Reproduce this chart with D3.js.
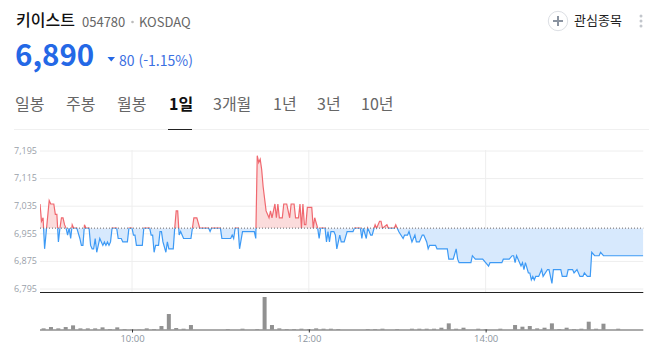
<!DOCTYPE html>
<html lang="ko">
<head>
<meta charset="utf-8">
<script src="https://cdn.jsdelivr.net/npm/d3@7"></script>
<style>
html, body { margin: 0; padding: 0; background: #fff; overflow: hidden; }
svg { display: block; font-family: "Noto Sans CJK KR", sans-serif; }
</style>
</head>
<body>
<div id="graph"></div>
<script>
// 분 단위 (09:00 부터 경과 분)
var lineMinutes = [0,1,2,3,6,7,9,10,11,12,13,14,15,16,17,18,19,20,21,22,24,26,27,28,29,30,32,33,34,35,36,37,39,40,41,42,43,44,45,46,47,50,51,53,54,57,58,60,
    61,62,63,67,68,72,73,74,75,76,78,79,80,81,83,84,85,88,89,90,91,92,93,95,100,101,102,104,106,112,113,114,120,121,127,128,129,130,132,133,135,143,144,145,146,147,148,149,151,153,154,155,157,158,159,160,162,163,165,167,168,170,171,173,174,175,176,177,178,179,182,183,184,186,187,188,191,192,193,194,195,197,198,199,201,202,204,
    206,210,211,215,216,217,219,220,222,223,225,226,228,229,230,233,234,238,239,240,241,244,245,247,248,250,252,253,255,257,258,260,261,262,266,267,274,275,278,280,281,282,290,291,293,298,302,303,311,312,316,318,319,320,321,324,325,326,327,329,330,331,332,333,334,336,338,339,342,343,345,346,351,352,355,356,359,360,362,364,366,367,369,371,372,374,377,378,380,407];
var linePrices = [7040,6990,7000,6910,7050,7040,7040,7010,7010,6930,6970,7000,7000,6980,6970,6950,6970,6940,6980,6970,6970,6940,6920,6920,6980,6970,6970,6920,6910,6910,6940,6900,6940,6930,6920,6930,6920,6930,6920,6930,6970,6970,6940,6940,6930,6930,6970,6970,
    6950,6950,6920,6920,6970,6970,6950,6950,6900,6920,6920,6960,6960,6930,6900,6930,6910,6910,6970,7020,7020,6950,6960,6940,6940,6970,7000,7000,6970,6970,6960,6970,6970,6940,6940,6950,6940,6970,6970,6910,6960,6960,6940,7180,7160,7170,7140,7090,7020,7000,7020,7000,7040,7000,7040,7000,7000,7040,7040,7000,7040,7040,7000,7000,7040,6970,7040,6980,6980,7030,7030,6970,7000,6970,6940,6970,6970,6930,6960,6930,6960,6960,6950,6910,6950,6930,6930,
    6960,6960,6970,6970,6940,6970,6940,6970,6950,6950,6980,6970,6990,6990,6970,6980,6970,6970,6980,6970,6960,6940,6950,6950,6960,6930,6950,6930,6930,6950,6950,6930,6910,6920,6920,6910,6910,6880,6880,6910,6880,6870,6870,6890,6880,6880,6860,6870,6870,6880,6880,6890,6890,6870,6890,6860,6870,6850,6870,6840,6840,6820,6830,6820,6830,6830,6850,6830,6850,6850,6810,6850,6850,6830,6830,6850,6850,6840,6850,6830,6830,6840,6830,6830,6900,6890,6890,6900,6890,6890];
var basePrice = 6970;
var priceTicks = [7195,7115,7035,6955,6875,6795];
var timeTicks = [60,180,300];
var timeLabels = ["10:00","12:00","14:00"];

// 5분 단위 거래량
var volumes = [4,8,4,8,13,4,4,4,7,2,7,2,1,1,4,2,11,47,5,3,14,0,0,0,0,2,0,3,0,2,98,14,4,2,2,3,2,4,3,3,2,0,0,0,2,2,3,0,2,0,3,3,3,3,6,19,3,6,0,3,2,0,3,0,14,9,11,4,6,19,2,6,2,3,24,3,18,0,3];

var tabs = ["일봉","주봉","월봉","1일","3개월","1년","3년","10년"];
var tabX = [15,66,117,169,213,273,317,361];
var activeTab = "1일";

var svg = d3.select("#graph").append("svg").attr("width", 649).attr("height", 351);

//헤더
function addText(x, y, str, size, color, weight, anchor) {
    return svg.append("text").attr("x", x).attr("y", y).text(str)
        .attr("font-size", size).attr("fill", color)
        .attr("font-weight", weight || 400).attr("text-anchor", anchor || "start");
}
addText(16, 26, "키이스트", 16, "#111", 500);
addText(82, 27, "054780", 13, "#666");
addText(139, 27, "KOSDAQ", 13, "#666");
svg.append("circle").attr("cx", 132.5).attr("cy", 22).attr("r", 1.3).attr("fill", "#bbb");
addText(15, 65.5, "6,890", 29.5, "#2468e6", 700);
svg.append("path").attr("d", "M107.5,57h7.5l-3.75,4.5z").attr("fill", "#2468e6");
addText(119, 66, "80 (-1.15%)", 14, "#3b70e2");

//관심종목
svg.append("circle").attr("cx", 558).attr("cy", 21).attr("r", 9.7).attr("fill", "#fff").attr("stroke", "#dcdfe4");
svg.append("path").attr("d", "M553,21h10M558,16v10").attr("stroke", "#8a93a0").attr("stroke-width", 2);
addText(574, 25, "관심종목", 13, "#222");
[16,21,26].forEach(function (cy) {
    svg.append("circle").attr("cx", 641).attr("cy", cy).attr("r", 1.5).attr("fill", "#c2c6cc");
});

//탭
tabs.forEach(function (t, i) {
    var on = t == activeTab;
    addText(tabX[i], 110, t, 16, on ? "#111" : "#666", on ? 700 : 400);
});
svg.append("line").attr("x1", 14).attr("x2", 649).attr("y1", 129.5).attr("y2", 129.5).attr("stroke", "#f0f0f0");
svg.append("line").attr("x1", 168).attr("x2", 192).attr("y1", 129.5).attr("y2", 129.5).attr("stroke", "#222");

//스케일
var left = 40, right = 643.3;
var xScale = d3.scaleLinear().domain([0, 60, 407]).range([left, 132, right]);
var yScale = d3.scaleLinear().domain([6795, 7195]).range([288.5, 150.5]);
var volX = d3.scaleLinear().domain([0, 60]).range([43.6, 132]);
var volY = d3.scaleLinear().domain([0, 98]).range([329.7, 297]);
var baseY = yScale(basePrice);

//y축과 그리드
var yAxis = svg.append("g").attr("transform", "translate(" + left + ",0)")
    .call(d3.axisLeft(yScale).tickValues(priceTicks).tickFormat(d3.format(",")).tickSize(-(right - left)).tickPadding(3));
yAxis.select(".domain").remove();
yAxis.selectAll("line").attr("stroke", "#eeeeee");
yAxis.selectAll("text").attr("font-size", 9).attr("fill", "#9aa1aa").attr("font-family", "'Open Sans', sans-serif");

//세로 그리드
svg.append("g").selectAll("line").data(timeTicks).enter().append("line")
    .attr("x1", function (d) { return xScale(d); }).attr("x2", function (d) { return xScale(d); })
    .attr("y1", 150).attr("y2", 292).attr("stroke", "#eeeeee");

//클립
var defs = svg.append("defs");
defs.append("clipPath").attr("id", "above").append("rect")
    .attr("x", left).attr("y", 140).attr("width", right - left).attr("height", baseY - 140);
defs.append("clipPath").attr("id", "below").append("rect")
    .attr("x", left).attr("y", baseY).attr("width", right - left).attr("height", 292 - baseY);

var series = lineMinutes.map(function (m, i) { return [m, linePrices[i]]; });
var area = d3.area().x(function (d) { return xScale(d[0]); }).y0(baseY).y1(function (d) { return yScale(d[1]); });
var line = d3.line().x(function (d) { return xScale(d[0]); }).y(function (d) { return yScale(d[1]); });

[["above", "#fbdcdc", "#f0686f"], ["below", "#d7e9fd", "#3d9af5"]].forEach(function (s) {
    var g = svg.append("g").attr("clip-path", "url(#" + s[0] + ")");
    g.append("path").datum(series).attr("d", area).attr("fill", s[1]);
    g.append("path").datum(series).attr("d", line).attr("fill", "none").attr("stroke", s[2]).attr("stroke-width", 1.2);
});

//기준가 점선
svg.append("line").attr("x1", left).attr("x2", right).attr("y1", baseY).attr("y2", baseY)
    .attr("stroke", "#666").attr("stroke-width", 1).attr("stroke-dasharray", "1,2");

svg.append("line").attr("x1", left).attr("x2", right).attr("y1", 292.5).attr("y2", 292.5).attr("stroke", "#222");

//거래량
svg.append("g").selectAll("rect").data(volumes).enter().append("rect")
    .attr("x", function (d, i) { return volX(i * 5) - 2; })
    .attr("width", 4)
    .attr("y", function (d) { return volY(d); })
    .attr("height", function (d) { return volY(0) - volY(d); })
    .attr("fill", "#919191");

//x축
var xAxis = svg.append("g").attr("transform", "translate(0,329.5)")
    .call(d3.axisBottom(xScale).tickValues(timeTicks).tickFormat(function (d, i) { return timeLabels[i]; }).tickSize(3).tickPadding(3));
xAxis.select(".domain").attr("d", "M" + left + ",0.5H" + right).attr("stroke", "#8f8f8f").attr("stroke-width", 1.5);
xAxis.selectAll("line").attr("stroke", "#333");
xAxis.selectAll("text").attr("font-size", 9.5).attr("fill", "#8d96a0").attr("font-family", "'Open Sans', sans-serif");
</script>
</body>
</html>
